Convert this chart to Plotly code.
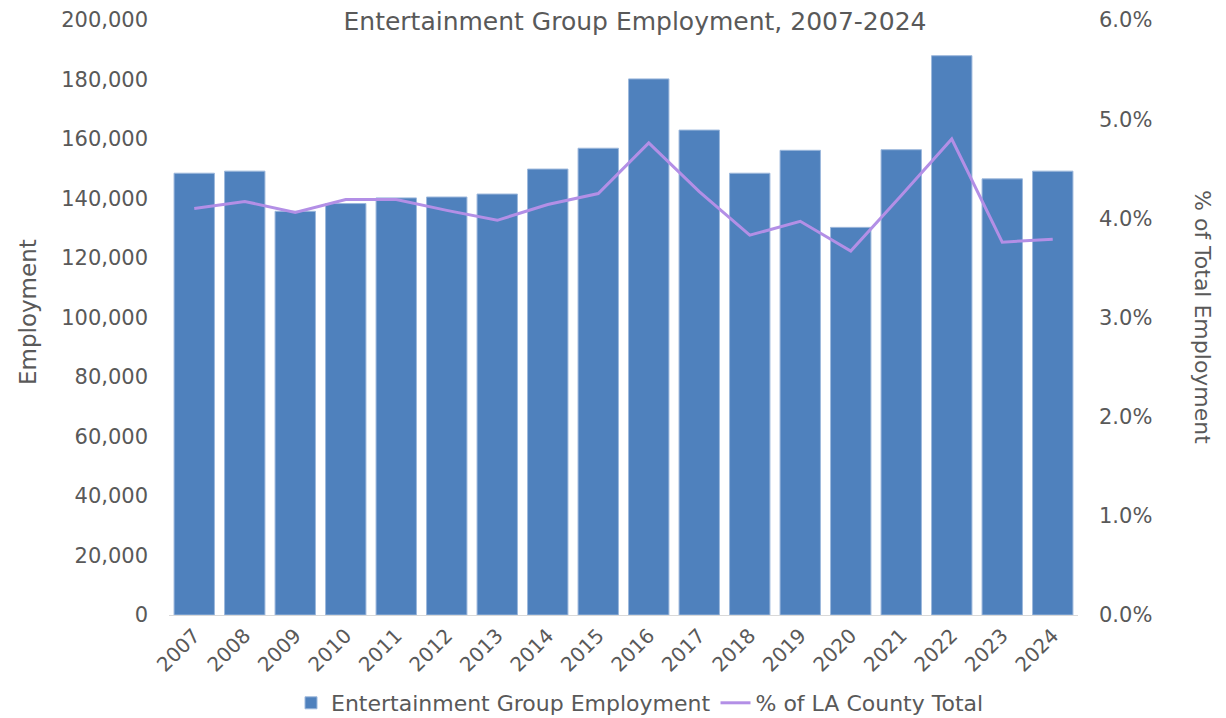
import plotly.graph_objects as go

years = [str(y) for y in range(2007, 2025)]
employment = [148500, 149200, 135700, 138300, 140200, 140500, 141500, 149900, 156900,
              180200, 163000, 148500, 156200, 130300, 156400, 188000, 146600, 149200]
pct_total = [4.10, 4.17, 4.06, 4.19, 4.19, 4.08, 3.98, 4.14, 4.25,
             4.76, 4.27, 3.83, 3.97, 3.67, 4.23, 4.80, 3.76, 3.79]
pct_frac = [p / 100 for p in pct_total]

FONT = "DejaVu Sans"
GREY = "#595959"
FS = 21

OFF = 8  # page body margin offset
W, H = 1226 - OFF, 718 - OFF
ML, MR, MT, MB = 169 - OFF, 148, 20 - OFF, 103
pw = W - ML - MR
ph = H - MT - MB


def py(screen_y):
    return (H - MB - (screen_y - OFF)) / ph


def px(screen_x):
    return (screen_x - OFF - ML) / pw


fig = go.Figure()
fig.add_trace(go.Bar(
    x=years, y=employment, name="Entertainment Group Employment",
    marker=dict(color="#4f81bd", line=dict(color="#9db8dc", width=1)),
    yaxis="y",
))
fig.add_trace(go.Scatter(
    x=years, y=pct_frac, name="% of LA County Total", mode="lines",
    line=dict(color="#b38fe6", width=3), yaxis="y2",
))

fig.update_layout(
    width=W, height=H,
    paper_bgcolor="white", plot_bgcolor="white",
    margin=dict(l=ML, r=MR, t=MT, b=MB, autoexpand=False),
    font=dict(family=FONT, color=GREY, size=FS),
    title=dict(text="Entertainment Group Employment, 2007-2024", x=px(635), xanchor="center",
               xref="paper", y=1 - (21 - OFF) / H, yanchor="middle",
               font=dict(size=25, color=GREY)),
    bargap=0.2,
    showlegend=True,
    legend=dict(orientation="h", x=px(640), xanchor="center", y=py(703),
                yanchor="middle", font=dict(size=22, color=GREY), itemwidth=30,
                traceorder="normal"),
    xaxis=dict(type="category", tickangle=-45, showline=True, linecolor="#d9d9d9",
               linewidth=1, ticks="", tickfont=dict(size=FS - 1, color=GREY), automargin=False),
    yaxis=dict(range=[0, 200000], dtick=20000, tickformat=",", showgrid=False,
               zeroline=False, ticks="", ticklabelstandoff=20, automargin=False),
    yaxis2=dict(range=[0, 0.06], dtick=0.01, tickformat=".1%", overlaying="y", side="right",
                showgrid=False, zeroline=False, ticks="", ticklabelstandoff=20, automargin=False),
    annotations=[
        dict(text="Employment", textangle=-90, x=px(28), y=py(312), xanchor="center",
             yanchor="middle", xref="paper", yref="paper", showarrow=False,
             font=dict(size=23, color=GREY)),
        dict(text="% of Total Employment", textangle=90, x=px(1203), y=py(317),
             xanchor="center", yanchor="middle", xref="paper", yref="paper",
             showarrow=False, font=dict(size=22, color=GREY)),
    ],
)
fig.write_html("out.html")
